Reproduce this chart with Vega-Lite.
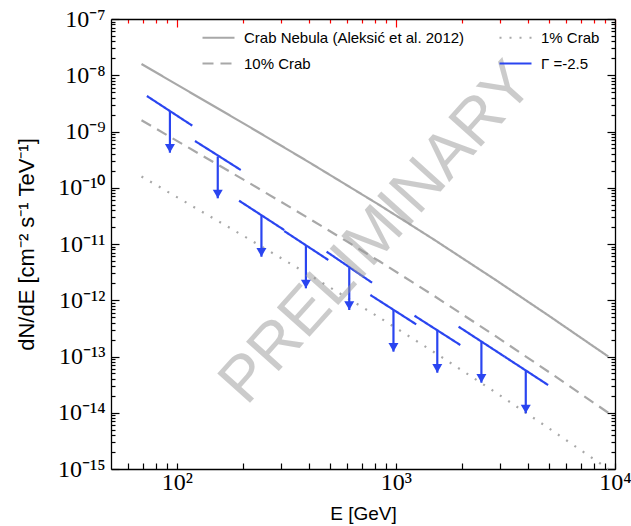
{
  "$schema": "https://vega.github.io/schema/vega-lite/v6.json",
  "width": 504,
  "height": 450,
  "autosize": "none",
  "padding": {"left": 111, "top": 19, "right": 16, "bottom": 57},
  "background": "white",
  "config": {"view": {"stroke": null}, "font": "Liberation Sans"},
  "datasets": {
    "lines": [
      {"series": "Crab Nebula (Aleksić et al. 2012)", "grp": "crab", "E": 68.9, "flux": 1.585e-8},
      {"series": "Crab Nebula (Aleksić et al. 2012)", "grp": "crab", "E": 213.5, "flux": 1.22e-9},
      {"series": "Crab Nebula (Aleksić et al. 2012)", "grp": "crab", "E": 401.8, "flux": 2.83e-10},
      {"series": "Crab Nebula (Aleksić et al. 2012)", "grp": "crab", "E": 840.6, "flux": 4.93e-11},
      {"series": "Crab Nebula (Aleksić et al. 2012)", "grp": "crab", "E": 1500, "flux": 1.18e-11},
      {"series": "Crab Nebula (Aleksić et al. 2012)", "grp": "crab", "E": 2874, "flux": 2.25e-12},
      {"series": "Crab Nebula (Aleksić et al. 2012)", "grp": "crab", "E": 5000, "flux": 5.27e-13},
      {"series": "Crab Nebula (Aleksić et al. 2012)", "grp": "crab", "E": 9315, "flux": 1.0e-13},
      {"series": "10% Crab", "grp": "c10", "E": 68.9, "flux": 1.585e-9},
      {"series": "10% Crab", "grp": "c10", "E": 213.5, "flux": 1.22e-10},
      {"series": "10% Crab", "grp": "c10", "E": 401.8, "flux": 2.83e-11},
      {"series": "10% Crab", "grp": "c10", "E": 840.6, "flux": 4.93e-12},
      {"series": "10% Crab", "grp": "c10", "E": 1500, "flux": 1.18e-12},
      {"series": "10% Crab", "grp": "c10", "E": 2874, "flux": 2.25e-13},
      {"series": "10% Crab", "grp": "c10", "E": 5000, "flux": 5.27e-14},
      {"series": "10% Crab", "grp": "c10", "E": 9315, "flux": 1.0e-14},
      {"series": "1% Crab", "grp": "c1", "E": 68.9, "flux": 1.585e-10},
      {"series": "1% Crab", "grp": "c1", "E": 213.5, "flux": 1.22e-11},
      {"series": "1% Crab", "grp": "c1", "E": 401.8, "flux": 2.83e-12},
      {"series": "1% Crab", "grp": "c1", "E": 840.6, "flux": 4.93e-13},
      {"series": "1% Crab", "grp": "c1", "E": 1500, "flux": 1.18e-13},
      {"series": "1% Crab", "grp": "c1", "E": 2874, "flux": 2.25e-14},
      {"series": "1% Crab", "grp": "c1", "E": 5000, "flux": 5.27e-15},
      {"series": "1% Crab", "grp": "c1", "E": 9315, "flux": 1.0e-15},
      {"series": "Γ =-2.5", "grp": "b1", "E": 72.9, "flux": 4.28e-9},
      {"series": "Γ =-2.5", "grp": "b1", "E": 117.5, "flux": 1.27e-9},
      {"series": "Γ =-2.5", "grp": "b2", "E": 120.9, "flux": 6.78e-10},
      {"series": "Γ =-2.5", "grp": "b2", "E": 195.6, "flux": 2.07e-10},
      {"series": "Γ =-2.5", "grp": "b3", "E": 192.2, "flux": 5.89e-11},
      {"series": "Γ =-2.5", "grp": "b3", "E": 308.9, "flux": 1.77e-11},
      {"series": "Γ =-2.5", "grp": "b4", "E": 308.9, "flux": 1.70e-11},
      {"series": "Γ =-2.5", "grp": "b4", "E": 491, "flux": 5.2e-12},
      {"series": "Γ =-2.5", "grp": "b5", "E": 482.4, "flux": 7.3e-12},
      {"series": "Γ =-2.5", "grp": "b5", "E": 778, "flux": 2.05e-12},
      {"series": "Γ =-2.5", "grp": "b6", "E": 764, "flux": 1.24e-12},
      {"series": "Γ =-2.5", "grp": "b6", "E": 1237, "flux": 3.73e-13},
      {"series": "Γ =-2.5", "grp": "b7", "E": 1215, "flux": 5.31e-13},
      {"series": "Γ =-2.5", "grp": "b7", "E": 1967, "flux": 1.60e-13},
      {"series": "Γ =-2.5", "grp": "b8", "E": 1932, "flux": 3.39e-13},
      {"series": "Γ =-2.5", "grp": "b8", "E": 3138, "flux": 9.9e-14},
      {"series": "Γ =-2.5", "grp": "b9", "E": 3138, "flux": 9.9e-14},
      {"series": "Γ =-2.5", "grp": "b9", "E": 4951, "flux": 3.11e-14}
    ],
    "arrows": [
      {"E": 92.9, "flux": 2.3e-9, "tip": 4.2e-10},
      {"E": 153.6, "flux": 3.6e-10, "tip": 6.49e-11},
      {"E": 243.1, "flux": 3.25e-11, "tip": 5.94e-12},
      {"E": 388, "flux": 9.2e-12, "tip": 1.63e-12},
      {"E": 612, "flux": 3.8e-12, "tip": 6.71e-13},
      {"E": 974, "flux": 6.76e-13, "tip": 1.22e-13},
      {"E": 1544, "flux": 2.92e-13, "tip": 5.15e-14},
      {"E": 2455, "flux": 1.85e-13, "tip": 3.42e-14},
      {"E": 3914, "flux": 5.65e-14, "tip": 9.77e-15}
    ],
    "watermark": [{"label": "PRELIMINARY", "E": 953, "flux": 9.2e-12}]
  },
  "layer": [
    {
      "data": {"name": "lines"},
      "mark": {"type": "line", "strokeWidth": 2.2},
      "encoding": {
        "x": {
          "field": "E", "type": "quantitative",
          "scale": {"type": "log", "domain": [50, 10000], "nice": false},
          "axis": {
            "orient": "bottom",
            "title": "E [GeV]",
            "titleFont": "Liberation Sans", "titleFontSize": 19, "titleFontWeight": "normal", "titleColor": "black",
            "titleY": 50, "titleBaseline": "alphabetic",
            "values": [60,70,80,90,100,200,300,400,500,600,700,800,900,1000,2000,3000,4000,5000,6000,7000,8000,9000,10000],
            "labelExpr": "datum.value == 100 ? '10²' : datum.value == 1000 ? '10³' : datum.value == 10000 ? '10⁴' : ''",
            "labelFont": "Liberation Serif", "labelFontSize": 24, "labelColor": "black",
            "labelOverlap": false, "labelFlush": false, "labelPadding": 7,
            "tickSize": -6,
            "tickColor": "black", "tickWidth": 1.2,
            "domainColor": "black", "domainWidth": 1.3, "grid": false
          }
        },
        "y": {
          "field": "flux", "type": "quantitative",
          "scale": {"type": "log", "domain": [1e-15, 1e-7], "nice": false},
          "axis": {
            "orient": "left",
            "title": "dN/dE [cm⁻² s⁻¹ TeV⁻¹]",
            "titleFont": "Liberation Sans", "titleFontSize": 22, "titleFontWeight": "normal", "titleColor": "black",
            "titleX": -78, "titleBaseline": "alphabetic", "titleAngle": -90,
            "values": [1e-15,2e-15,3e-15,4e-15,5e-15,6e-15,7e-15,8e-15,9e-15,1e-14,2e-14,3e-14,4e-14,5e-14,6e-14,7e-14,8e-14,9e-14,1e-13,2e-13,3e-13,4e-13,5e-13,6e-13,7e-13,8e-13,9e-13,1e-12,2e-12,3e-12,4e-12,5e-12,6e-12,7e-12,8e-12,9e-12,1e-11,2e-11,3e-11,4e-11,5e-11,6e-11,7e-11,8e-11,9e-11,1e-10,2e-10,3e-10,4e-10,5e-10,6e-10,7e-10,8e-10,9e-10,1e-9,2e-9,3e-9,4e-9,5e-9,6e-9,7e-9,8e-9,9e-9,1e-8,2e-8,3e-8,4e-8,5e-8,6e-8,7e-8,8e-8,9e-8,1e-7],
            "labelExpr": "indexof([1e-15,1e-14,1e-13,1e-12,1e-11,1e-10,1e-9,1e-8,1e-7], datum.value) < 0 ? '' : '10' + ['⁻¹⁵','⁻¹⁴','⁻¹³','⁻¹²','⁻¹¹','⁻¹⁰','⁻⁹','⁻⁸','⁻⁷'][indexof([1e-15,1e-14,1e-13,1e-12,1e-11,1e-10,1e-9,1e-8,1e-7], datum.value)]",
            "labelFont": "Liberation Serif", "labelFontSize": 24, "labelColor": "black",
            "labelOverlap": false, "labelFlush": false, "labelPadding": 14,
            "tickSize": {"condition": {"test": "indexof([1e-15,1e-14,1e-13,1e-12,1e-11,1e-10,1e-9,1e-8,1e-7], datum.value) >= 0", "value": -8}, "value": -4},
            "tickColor": "black", "tickWidth": 1.2,
            "domainColor": "black", "domainWidth": 1.3, "grid": false
          }
        },
        "color": {
          "field": "series", "type": "nominal",
          "scale": {
            "domain": ["Crab Nebula (Aleksić et al. 2012)", "10% Crab", "1% Crab", "Γ =-2.5"],
            "range": ["#a8a8a8", "#a8a8a8", "#a8a8a8", "#2a45f0"]
          },
          "legend": {
            "title": null, "orient": "none", "legendX": 90, "legendY": 1,
            "columns": 2, "columnPadding": 30, "rowPadding": -19,
            "symbolType": "stroke", "symbolSize": 1024, "symbolStrokeWidth": 2.2,
            "labelFont": "Liberation Sans", "labelFontSize": 15, "labelColor": "black", "labelOffset": 8,
            "labelLimit": 400
          }
        },
        "strokeDash": {
          "field": "series", "type": "nominal",
          "scale": {
            "domain": ["Crab Nebula (Aleksić et al. 2012)", "10% Crab", "1% Crab", "Γ =-2.5"],
            "range": [[1, 0], [11, 7], [2, 8], [1, 0]]
          },
          "legend": {
            "title": null, "orient": "none", "legendX": 90, "legendY": 1,
            "columns": 2, "columnPadding": 30, "rowPadding": -19,
            "symbolType": "stroke", "symbolSize": 1024, "symbolStrokeWidth": 2.2,
            "labelFont": "Liberation Sans", "labelFontSize": 15, "labelColor": "black", "labelOffset": 8,
            "labelLimit": 400
          }
        },
        "detail": {"field": "grp", "type": "nominal"}
      }
    },
    {
      "data": {"name": "arrows"},
      "mark": {"type": "rule", "color": "#2a45f0", "strokeWidth": 2.2},
      "encoding": {
        "x": {"field": "E", "type": "quantitative", "scale": {"type": "log", "domain": [50, 10000], "nice": false}, "axis": null},
        "y": {"field": "flux", "type": "quantitative", "scale": {"type": "log", "domain": [1e-15, 1e-7], "nice": false}, "axis": null},
        "y2": {"field": "tip"}
      }
    },
    {
      "data": {"name": "arrows"},
      "mark": {"type": "point", "shape": "triangle-down", "filled": true, "size": 100, "color": "#2a45f0", "opacity": 1, "yOffset": -4.3},
      "encoding": {
        "x": {"field": "E", "type": "quantitative", "scale": {"type": "log", "domain": [50, 10000], "nice": false}, "axis": null},
        "y": {"field": "tip", "type": "quantitative", "scale": {"type": "log", "domain": [1e-15, 1e-7], "nice": false}, "axis": null}
      }
    },
    {
      "data": {"name": "watermark"},
      "mark": {"type": "text", "angle": -48, "fontSize": 64, "font": "Liberation Sans", "color": "#999999", "opacity": 0.5, "align": "center", "baseline": "alphabetic"},
      "encoding": {
        "x": {"field": "E", "type": "quantitative", "scale": {"type": "log", "domain": [50, 10000], "nice": false}, "axis": null},
        "y": {"field": "flux", "type": "quantitative", "scale": {"type": "log", "domain": [1e-15, 1e-7], "nice": false}, "axis": null},
        "text": {"field": "label"}
      }
    },
    {
      "data": {"name": "arrows"},
      "mark": {"type": "point", "opacity": 0},
      "encoding": {
        "x": {
          "field": "E", "type": "quantitative",
          "scale": {"type": "log", "domain": [50, 10000], "nice": false},
          "axis": {
            "orient": "top", "title": null, "labels": false,
            "values": [60,70,80,90,100,200,300,400,500,600,700,800,900,1000,2000,3000,4000,5000,6000,7000,8000,9000,10000],
            "tickSize": {"condition": {"test": "indexof([100, 1000, 10000], datum.value) >= 0", "value": -8}, "value": -4},
            "tickColor": "red", "tickWidth": 1.2,
            "domainColor": "black", "domainWidth": 1.3, "grid": false
          }
        },
        "y": {
          "field": "flux", "type": "quantitative",
          "scale": {"type": "log", "domain": [1e-15, 1e-7], "nice": false},
          "axis": {
            "orient": "right", "title": null, "labels": false,
            "values": [1e-15,2e-15,3e-15,4e-15,5e-15,6e-15,7e-15,8e-15,9e-15,1e-14,2e-14,3e-14,4e-14,5e-14,6e-14,7e-14,8e-14,9e-14,1e-13,2e-13,3e-13,4e-13,5e-13,6e-13,7e-13,8e-13,9e-13,1e-12,2e-12,3e-12,4e-12,5e-12,6e-12,7e-12,8e-12,9e-12,1e-11,2e-11,3e-11,4e-11,5e-11,6e-11,7e-11,8e-11,9e-11,1e-10,2e-10,3e-10,4e-10,5e-10,6e-10,7e-10,8e-10,9e-10,1e-9,2e-9,3e-9,4e-9,5e-9,6e-9,7e-9,8e-9,9e-9,1e-8,2e-8,3e-8,4e-8,5e-8,6e-8,7e-8,8e-8,9e-8,1e-7],
            "tickSize": {"condition": {"test": "indexof([1e-15,1e-14,1e-13,1e-12,1e-11,1e-10,1e-9,1e-8,1e-7], datum.value) >= 0", "value": -8}, "value": -4},
            "tickColor": "black", "tickWidth": 1.2,
            "domainColor": "black", "domainWidth": 1.3, "grid": false
          }
        }
      }
    }
  ],
  "resolve": {"scale": {"x": "independent", "y": "independent"}}
}
